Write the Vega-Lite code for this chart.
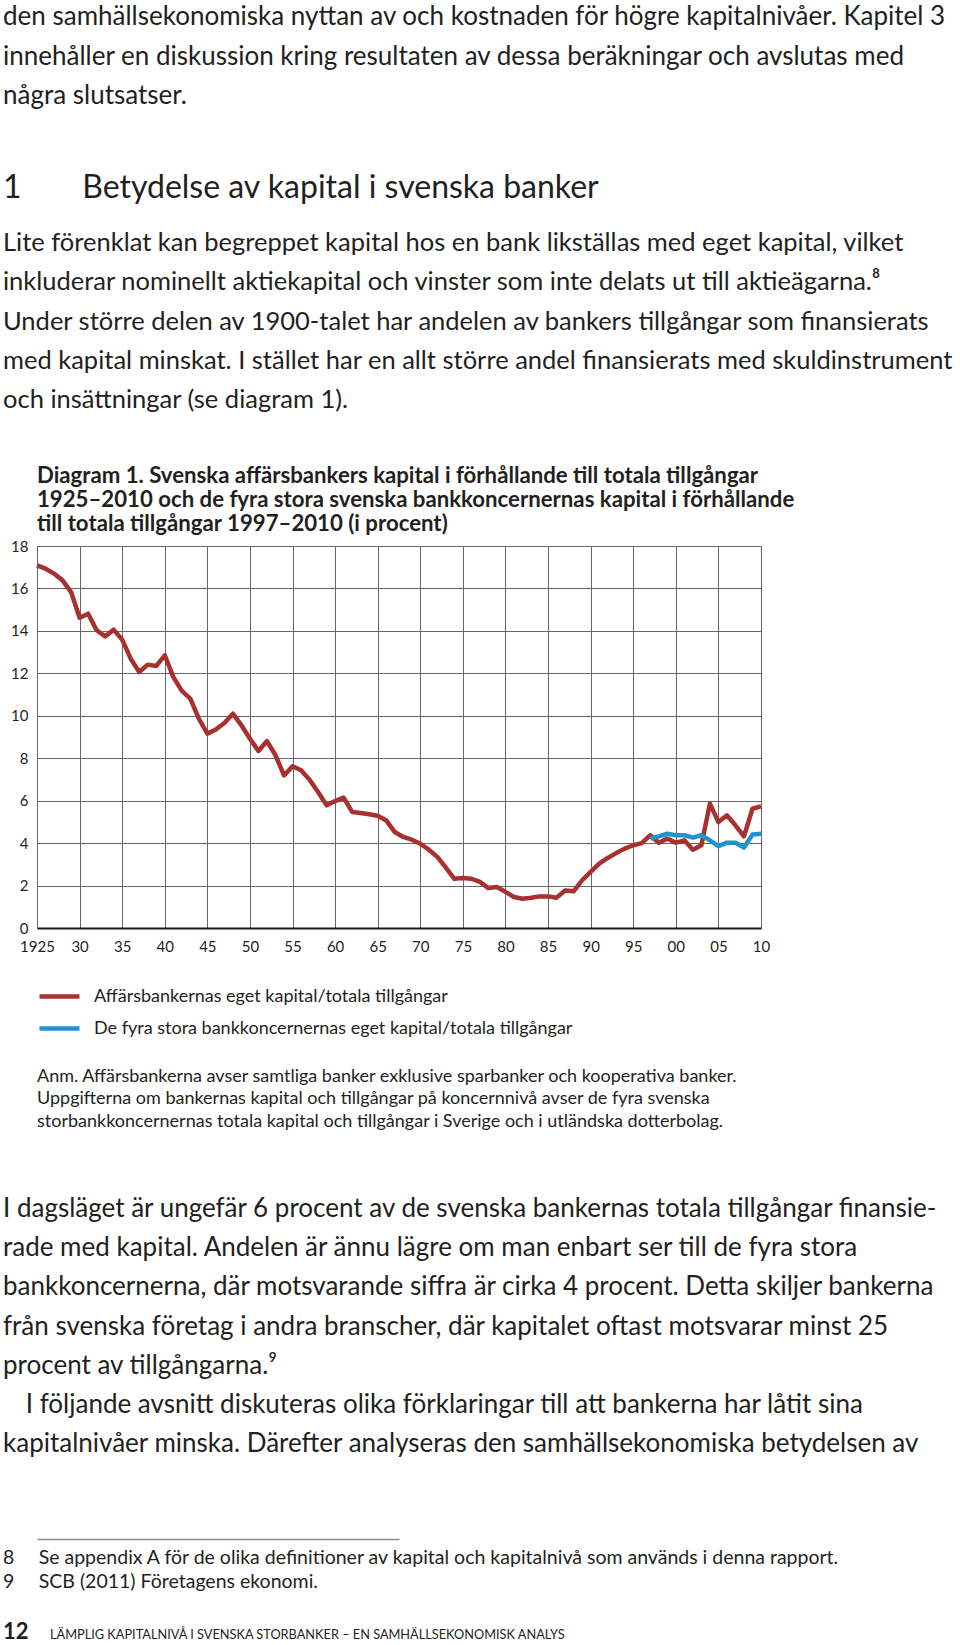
{
  "$schema": "https://vega.github.io/schema/vega-lite/v6.json",
  "background": "white",
  "padding": {"left": 3, "top": 4, "right": 0, "bottom": 0},
  "spacing": 0,
  "resolve": {"scale": {"color": "independent"}, "legend": {"color": "independent"}},
  "config": {
    "font": "Lato",
    "view": {"stroke": null},
    "title": {"anchor": "start", "color": "#231f20", "subtitleColor": "#231f20", "fontWeight": "normal", "subtitleFontWeight": "normal", "offset": 0, "font": "Lato", "subtitleFont": "Lato", "limit": 1000},
    "axis": {"labelColor": "#231f20", "labelFont": "Lato"}
  },
  "vconcat": [
    {
      "width": 940, "height": 22,
      "data": {"values": []},
      "mark": "point",
      "title": {
        "text": ["den samhällsekonomiska nyttan av och kostnaden för högre kapitalnivåer. Kapitel 3", "innehåller en diskussion kring resultaten av dessa beräkningar och avslutas med", "några slutsatser."],
        "fontSize": 26, "lineHeight": 39.4, "dx": -34,
        "subtitle": "1\u2003\u2003\u2004\u200aBetydelse av kapital i svenska banker",
        "subtitleFontSize": 32, "subtitlePadding": 64, "subtitleLineHeight": 36
      }
    },
    {
      "width": 940, "height": 46,
      "data": {"values": []},
      "mark": "point",
      "title": {
        "text": ["Lite förenklat kan begreppet kapital hos en bank likställas med eget kapital, vilket", "inkluderar nominellt aktiekapital och vinster som inte delats ut till aktieägarna.⁸", "Under större delen av 1900-talet har andelen av bankers tillgångar som finansierats", "med kapital minskat. I stället har en allt större andel finansierats med skuldinstrument", "och insättningar (se diagram 1)."],
        "fontSize": 25.5, "lineHeight": 39.4, "dx": -34
      }
    },
    {
      "width": 724, "height": 382,
      "title": {
        "text": ["Diagram 1. Svenska affärsbankers kapital i förhållande till totala tillgångar", "1925–2010 och de fyra stora svenska bankkoncernernas kapital i förhållande", "till totala tillgångar 1997–2010 (i procent)"],
        "fontSize": 22.2, "fontWeight": "bold", "lineHeight": 24, "frame": "group", "offset": 4
      },
      "data": {"values": [
        {"year": 1925, "Affärsbankernas eget kapital/totala tillgångar": 17.09},
        {"year": 1926, "Affärsbankernas eget kapital/totala tillgångar": 16.93},
        {"year": 1927, "Affärsbankernas eget kapital/totala tillgångar": 16.70},
        {"year": 1928, "Affärsbankernas eget kapital/totala tillgångar": 16.38},
        {"year": 1929, "Affärsbankernas eget kapital/totala tillgångar": 15.83},
        {"year": 1930, "Affärsbankernas eget kapital/totala tillgångar": 14.62},
        {"year": 1931, "Affärsbankernas eget kapital/totala tillgångar": 14.81},
        {"year": 1932, "Affärsbankernas eget kapital/totala tillgångar": 14.03},
        {"year": 1933, "Affärsbankernas eget kapital/totala tillgångar": 13.74},
        {"year": 1934, "Affärsbankernas eget kapital/totala tillgångar": 14.06},
        {"year": 1935, "Affärsbankernas eget kapital/totala tillgångar": 13.59},
        {"year": 1936, "Affärsbankernas eget kapital/totala tillgångar": 12.69},
        {"year": 1937, "Affärsbankernas eget kapital/totala tillgångar": 12.06},
        {"year": 1938, "Affärsbankernas eget kapital/totala tillgångar": 12.41},
        {"year": 1939, "Affärsbankernas eget kapital/totala tillgångar": 12.35},
        {"year": 1940, "Affärsbankernas eget kapital/totala tillgångar": 12.85},
        {"year": 1941, "Affärsbankernas eget kapital/totala tillgångar": 11.83},
        {"year": 1942, "Affärsbankernas eget kapital/totala tillgångar": 11.17},
        {"year": 1943, "Affärsbankernas eget kapital/totala tillgångar": 10.81},
        {"year": 1944, "Affärsbankernas eget kapital/totala tillgångar": 9.86},
        {"year": 1945, "Affärsbankernas eget kapital/totala tillgångar": 9.16},
        {"year": 1946, "Affärsbankernas eget kapital/totala tillgångar": 9.35},
        {"year": 1947, "Affärsbankernas eget kapital/totala tillgångar": 9.66},
        {"year": 1948, "Affärsbankernas eget kapital/totala tillgångar": 10.10},
        {"year": 1949, "Affärsbankernas eget kapital/totala tillgångar": 9.55},
        {"year": 1950, "Affärsbankernas eget kapital/totala tillgångar": 8.92},
        {"year": 1951, "Affärsbankernas eget kapital/totala tillgångar": 8.34},
        {"year": 1952, "Affärsbankernas eget kapital/totala tillgångar": 8.81},
        {"year": 1953, "Affärsbankernas eget kapital/totala tillgångar": 8.14},
        {"year": 1954, "Affärsbankernas eget kapital/totala tillgångar": 7.19},
        {"year": 1955, "Affärsbankernas eget kapital/totala tillgångar": 7.62},
        {"year": 1956, "Affärsbankernas eget kapital/totala tillgångar": 7.43},
        {"year": 1957, "Affärsbankernas eget kapital/totala tillgångar": 6.99},
        {"year": 1958, "Affärsbankernas eget kapital/totala tillgångar": 6.41},
        {"year": 1959, "Affärsbankernas eget kapital/totala tillgångar": 5.78},
        {"year": 1960, "Affärsbankernas eget kapital/totala tillgångar": 5.98},
        {"year": 1961, "Affärsbankernas eget kapital/totala tillgångar": 6.14},
        {"year": 1962, "Affärsbankernas eget kapital/totala tillgångar": 5.47},
        {"year": 1963, "Affärsbankernas eget kapital/totala tillgångar": 5.42},
        {"year": 1964, "Affärsbankernas eget kapital/totala tillgångar": 5.36},
        {"year": 1965, "Affärsbankernas eget kapital/totala tillgångar": 5.29},
        {"year": 1966, "Affärsbankernas eget kapital/totala tillgångar": 5.07},
        {"year": 1967, "Affärsbankernas eget kapital/totala tillgångar": 4.52},
        {"year": 1968, "Affärsbankernas eget kapital/totala tillgångar": 4.29},
        {"year": 1969, "Affärsbankernas eget kapital/totala tillgångar": 4.16},
        {"year": 1970, "Affärsbankernas eget kapital/totala tillgångar": 3.97},
        {"year": 1971, "Affärsbankernas eget kapital/totala tillgångar": 3.69},
        {"year": 1972, "Affärsbankernas eget kapital/totala tillgångar": 3.35},
        {"year": 1973, "Affärsbankernas eget kapital/totala tillgångar": 2.84},
        {"year": 1974, "Affärsbankernas eget kapital/totala tillgångar": 2.32},
        {"year": 1975, "Affärsbankernas eget kapital/totala tillgångar": 2.36},
        {"year": 1976, "Affärsbankernas eget kapital/totala tillgångar": 2.32},
        {"year": 1977, "Affärsbankernas eget kapital/totala tillgångar": 2.17},
        {"year": 1978, "Affärsbankernas eget kapital/totala tillgångar": 1.88},
        {"year": 1979, "Affärsbankernas eget kapital/totala tillgångar": 1.93},
        {"year": 1980, "Affärsbankernas eget kapital/totala tillgångar": 1.70},
        {"year": 1981, "Affärsbankernas eget kapital/totala tillgångar": 1.46},
        {"year": 1982, "Affärsbankernas eget kapital/totala tillgångar": 1.38},
        {"year": 1983, "Affärsbankernas eget kapital/totala tillgångar": 1.43},
        {"year": 1984, "Affärsbankernas eget kapital/totala tillgångar": 1.49},
        {"year": 1985, "Affärsbankernas eget kapital/totala tillgångar": 1.49},
        {"year": 1986, "Affärsbankernas eget kapital/totala tillgångar": 1.43},
        {"year": 1987, "Affärsbankernas eget kapital/totala tillgångar": 1.77},
        {"year": 1988, "Affärsbankernas eget kapital/totala tillgångar": 1.73},
        {"year": 1989, "Affärsbankernas eget kapital/totala tillgångar": 2.25},
        {"year": 1990, "Affärsbankernas eget kapital/totala tillgångar": 2.64},
        {"year": 1991, "Affärsbankernas eget kapital/totala tillgångar": 3.03},
        {"year": 1992, "Affärsbankernas eget kapital/totala tillgångar": 3.30},
        {"year": 1993, "Affärsbankernas eget kapital/totala tillgångar": 3.53},
        {"year": 1994, "Affärsbankernas eget kapital/totala tillgångar": 3.74},
        {"year": 1995, "Affärsbankernas eget kapital/totala tillgångar": 3.90},
        {"year": 1996, "Affärsbankernas eget kapital/totala tillgångar": 4.00},
        {"year": 1997, "Affärsbankernas eget kapital/totala tillgångar": 4.37, "De fyra stora bankkoncernernas eget kapital/totala tillgångar": 4.21},
        {"year": 1998, "Affärsbankernas eget kapital/totala tillgångar": 4.02, "De fyra stora bankkoncernernas eget kapital/totala tillgångar": 4.32},
        {"year": 1999, "Affärsbankernas eget kapital/totala tillgångar": 4.21, "De fyra stora bankkoncernernas eget kapital/totala tillgångar": 4.44},
        {"year": 2000, "Affärsbankernas eget kapital/totala tillgångar": 4.02, "De fyra stora bankkoncernernas eget kapital/totala tillgångar": 4.37},
        {"year": 2001, "Affärsbankernas eget kapital/totala tillgångar": 4.13, "De fyra stora bankkoncernernas eget kapital/totala tillgångar": 4.37},
        {"year": 2002, "Affärsbankernas eget kapital/totala tillgångar": 3.69, "De fyra stora bankkoncernernas eget kapital/totala tillgångar": 4.26},
        {"year": 2003, "Affärsbankernas eget kapital/totala tillgångar": 3.90, "De fyra stora bankkoncernernas eget kapital/totala tillgångar": 4.37},
        {"year": 2004, "Affärsbankernas eget kapital/totala tillgångar": 5.86, "De fyra stora bankkoncernernas eget kapital/totala tillgångar": 4.13},
        {"year": 2005, "Affärsbankernas eget kapital/totala tillgångar": 4.99, "De fyra stora bankkoncernernas eget kapital/totala tillgångar": 3.86},
        {"year": 2006, "Affärsbankernas eget kapital/totala tillgångar": 5.31, "De fyra stora bankkoncernernas eget kapital/totala tillgångar": 4.02},
        {"year": 2007, "Affärsbankernas eget kapital/totala tillgångar": 4.84, "De fyra stora bankkoncernernas eget kapital/totala tillgångar": 4.02},
        {"year": 2008, "Affärsbankernas eget kapital/totala tillgångar": 4.32, "De fyra stora bankkoncernernas eget kapital/totala tillgångar": 3.79},
        {"year": 2009, "Affärsbankernas eget kapital/totala tillgångar": 5.62, "De fyra stora bankkoncernernas eget kapital/totala tillgångar": 4.41},
        {"year": 2010, "Affärsbankernas eget kapital/totala tillgångar": 5.73, "De fyra stora bankkoncernernas eget kapital/totala tillgångar": 4.44}
      ]},
      "transform": [
        {"fold": ["Affärsbankernas eget kapital/totala tillgångar", "De fyra stora bankkoncernernas eget kapital/totala tillgångar"], "as": ["series", "value"]}
      ],
      "mark": {"type": "line", "strokeWidth": 4.5, "strokeJoin": "round"},
      "encoding": {
        "x": {
          "field": "year", "type": "quantitative",
          "scale": {"domain": [1925, 2010], "nice": false, "zero": false},
          "axis": {
            "title": null,
            "values": [1925, 1930, 1935, 1940, 1945, 1950, 1955, 1960, 1965, 1970, 1975, 1980, 1985, 1990, 1995, 2000, 2005, 2010],
            "labelExpr": "datum.value == 1925 ? '1925' : (datum.value % 100 < 10 ? '0' + (datum.value % 100) : '' + (datum.value % 100))",
            "grid": true, "gridColor": "#666666", "gridWidth": 1,
            "ticks": false, "domainColor": "#1a1a1a", "domainWidth": 2,
            "labelFontSize": 15, "labelPadding": 11, "labelFlush": false, "labelOverlap": false
          }
        },
        "y": {
          "field": "value", "type": "quantitative",
          "scale": {"domain": [0, 18], "nice": false},
          "axis": {
            "title": null,
            "values": [0, 2, 4, 6, 8, 10, 12, 14, 16, 18],
            "grid": true, "gridColor": "#666666", "gridWidth": 1,
            "ticks": false, "domainColor": "#666666", "domainWidth": 1,
            "labelFontSize": 15, "labelPadding": 9, "minExtent": 34, "labelFlush": false
          }
        },
        "color": {
          "field": "series", "type": "nominal",
          "scale": {"domain": ["Affärsbankernas eget kapital/totala tillgångar", "De fyra stora bankkoncernernas eget kapital/totala tillgångar"], "range": ["#a8302f", "#1f95cf"]},
          "legend": {
            "orient": "bottom", "offset": 20, "direction": "vertical", "title": null,
            "symbolType": "stroke", "symbolSize": 1600, "symbolStrokeWidth": 4.5,
            "labelFontSize": 18, "labelOffset": 12, "rowPadding": -10, "labelLimit": 700,
            "labelColor": "#231f20", "padding": 0
          }
        }
      }
    },
    {
      "width": 700, "height": 25.5,
      "data": {"values": []},
      "mark": "point",
      "title": {
        "text": ["Anm. Affärsbankerna avser samtliga banker exklusive sparbanker och kooperativa banker.", "Uppgifterna om bankernas kapital och tillgångar på koncernnivå avser de fyra svenska", "storbankkoncernernas totala kapital och tillgångar i Sverige och i utländska dotterbolag."],
        "orient": "bottom", "fontSize": 18, "lineHeight": 22.5
      }
    },
    {
      "width": 940, "height": 61,
      "data": {"values": []},
      "mark": "point",
      "title": {
        "text": ["I dagsläget är ungefär 6 procent av de svenska bankernas totala tillgångar finansie-", "rade med kapital. Andelen är ännu lägre om man enbart ser till de fyra stora", "bankkoncernerna, där motsvarande siffra är cirka 4 procent. Detta skiljer bankerna", "från svenska företag i andra branscher, där kapitalet oftast motsvarar minst 25", "procent av tillgångarna.⁹", "\u200b\u2003\u2009I följande avsnitt diskuteras olika förklaringar till att bankerna har låtit sina", "kapitalnivåer minska. Därefter analyseras den samhällsekonomiska betydelsen av"],
        "orient": "bottom", "fontSize": 26, "lineHeight": 39.2, "dx": -34
      }
    },
    {
      "width": 362, "height": 81,
      "data": {"values": [{"x": 0}]},
      "mark": {"type": "point", "opacity": 0},
      "encoding": {
        "x": {"field": "x", "type": "quantitative", "axis": {"title": null, "labels": false, "ticks": false, "grid": false, "domainColor": "#8c8c8c", "domainWidth": 1.5, "offset": 0}}
      },
      "title": {
        "text": ["8\u2003\u2002Se appendix A för de olika definitioner av kapital och kapitalnivå som används i denna rapport.", "9\u2003\u2002SCB (2011) Företagens ekonomi."],
        "orient": "bottom", "fontSize": 19.5, "lineHeight": 24, "offset": 10, "dx": -34
      }
    },
    {
      "spacing": 12,
      "hconcat": [
        {
          "width": 1, "height": 26,
          "data": {"values": []},
          "mark": "point",
          "title": {"text": "12", "orient": "bottom", "fontSize": 22, "fontWeight": "bold", "dx": -34}
        },
        {
          "width": 1, "height": 26,
          "data": {"values": []},
          "mark": "point",
          "title": {"text": "LÄMPLIG KAPITALNIVÅ I SVENSKA STORBANKER – EN SAMHÄLLSEKONOMISK ANALYS", "orient": "bottom", "fontSize": 12.75, "dy": 7, "dx": -34}
        }
      ]
    }
  ]
}
